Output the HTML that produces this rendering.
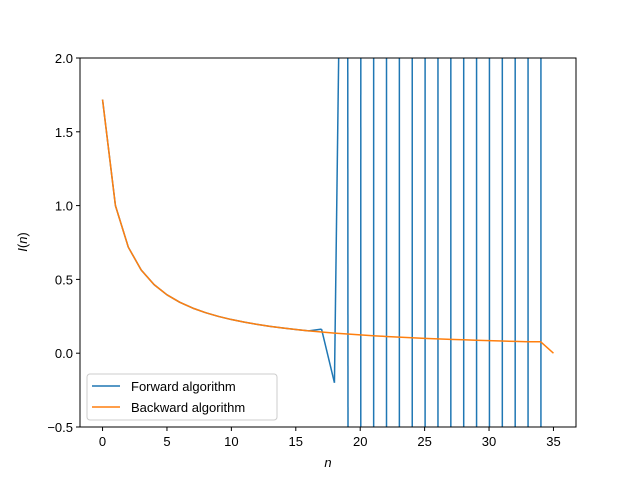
<!DOCTYPE html>
<html><head><meta charset="utf-8"><style>
html,body{margin:0;padding:0;background:#fff;}
svg{display:block;font-family:"Liberation Sans","DejaVu Sans",sans-serif;}
</style></head><body>
<svg id="chart" width="640" height="480" viewBox="0 0 640 480">
<rect width="640" height="480" fill="#fff"/>
<g id="marks"></g>
<rect x="80" y="58" width="496" height="369" fill="none" stroke="#000" stroke-width="1"/>
<g id="ticks" font-size="13" fill="#000"></g>
<text x="328" y="467" font-size="13" font-style="italic" text-anchor="middle">n</text>
<text transform="translate(27,242) rotate(-90)" font-size="13" text-anchor="middle"><tspan font-style="italic">I</tspan>(<tspan font-style="italic">n</tspan>)</text>
<g>
<rect x="87" y="374" width="190" height="46" rx="3" fill="#fff" fill-opacity="0.8" stroke="#ccc"/>
<line x1="92" y1="386" x2="120" y2="386" stroke="#1f77b4" stroke-width="1.5"/>
<text x="131" y="391" font-size="13">Forward algorithm</text>
<line x1="92" y1="407" x2="120" y2="407" stroke="#ff7f0e" stroke-width="1.5"/>
<text x="131" y="412" font-size="13">Backward algorithm</text>
</g>
</svg>
<script>
const forwardValues = [1.71828,1,0.71828,0.56344,0.46453,0.3956,0.34468,0.30549,0.27436,0.24903,0.228,0.21027,0.1951,0.18198,0.17052,0.16043,0.15146,0.163,-0.2,6.52,-127.7,2684,-59050,1.358e6,-3.26e7,8.15e8,-2.12e10,5.72e11,-1.6e13,4.64e14,-1.39e16,4.32e17,-1.38e19,4.56e20,-1.55e22,5.42e23];
const backwardValues = [1.71828,1,0.71828,0.56344,0.46453,0.3956,0.34468,0.30549,0.27436,0.24903,0.228,0.21027,0.1951,0.18198,0.17052,0.16043,0.15146,0.14345,0.13624,0.12972,0.1238,0.1184,0.11345,0.1089,0.1047,0.10081,0.0972,0.09384,0.09071,0.08778,0.08503,0.08245,0.08002,0.07766,0.07767,0];
const xTicks = [0,5,10,15,20,25,30,35];
const yTicks = [-0.5,0,0.5,1,1.5,2];
const X0=80,X1=576,Y0=58,Y1=427, xMin=-1.75, xMax=36.75, yMin=-0.5, yMax=2;
const sx = v => X0 + (v - xMin)/(xMax - xMin)*(X1-X0);
const sy = v => Y1 - (v - yMin)/(yMax - yMin)*(Y1-Y0);
const NS="http://www.w3.org/2000/svg";
function clip(x0,y0,x1,y1){
  let t0=0,t1=1,i0=-1,i1=-1;const dx=x1-x0,dy=y1-y0;
  const p=[-dx,dx,-dy,dy], q=[x0-xMin,xMax-x0,y0-yMin,yMax-y0];
  for(let i=0;i<4;i++){
    if(p[i]===0){if(q[i]<0)return null;}
    else{const r=q[i]/p[i]; if(p[i]<0){if(r>t1)return null;if(r>t0){t0=r;i0=i;}}else{if(r<t0)return null;if(r<t1){t1=r;i1=i;}}}
  }
  const yb=i=>i===2?yMin:yMax;
  const ya = i0>=2 ? yb(i0) : (i0<0 ? y0 : y0+t0*dy);
  const ye = i1>=2 ? yb(i1) : (i1<0 ? y1 : y0+t1*dy);
  return [x0+t0*dx,ya,x0+t1*dx,ye];
}
function drawSeries(vals,color,name){
  const g=document.createElementNS(NS,"g");
  
  
  for(let i=0;i<vals.length-1;i++){
    const c=clip(i,vals[i],i+1,vals[i+1]); if(!c)continue;
    const l=document.createElementNS(NS,"line");
    
    
    l.setAttribute("x1",sx(c[0]));l.setAttribute("y1",sy(c[1]));
    l.setAttribute("x2",sx(c[2]));l.setAttribute("y2",sy(c[3]));
    l.setAttribute("stroke",color);l.setAttribute("stroke-width","1.5");l.setAttribute("stroke-linecap","butt");
    g.appendChild(l);
  }
  document.getElementById("marks").appendChild(g);
}
drawSeries(forwardValues,"#1f77b4","forward-line");
drawSeries(backwardValues,"#ff7f0e","backward-line");
const tg=document.getElementById("ticks");
xTicks.forEach(v=>{
  const l=document.createElementNS(NS,"line");
  
  
  l.setAttribute("x1",sx(v));l.setAttribute("x2",sx(v));l.setAttribute("y1",Y1);l.setAttribute("y2",Y1+4);l.setAttribute("stroke","#000");
  tg.appendChild(l);
  const t=document.createElementNS(NS,"text");
  
  
  t.setAttribute("x",sx(v));t.setAttribute("y",Y1+19);t.setAttribute("text-anchor","middle");
  t.textContent=String(v);tg.appendChild(t);
});
yTicks.forEach(v=>{
  const l=document.createElementNS(NS,"line");
  
  
  l.setAttribute("x1",X0-4);l.setAttribute("x2",X0);l.setAttribute("y1",sy(v));l.setAttribute("y2",sy(v));l.setAttribute("stroke","#000");
  tg.appendChild(l);
  const t=document.createElementNS(NS,"text");
  
  
  t.setAttribute("x",X0-7);t.setAttribute("y",sy(v)+5);t.setAttribute("text-anchor","end");
  t.textContent=(v<0?"\u2212":"")+Math.abs(v).toFixed(1);tg.appendChild(t);
});
</script>
</body></html>
